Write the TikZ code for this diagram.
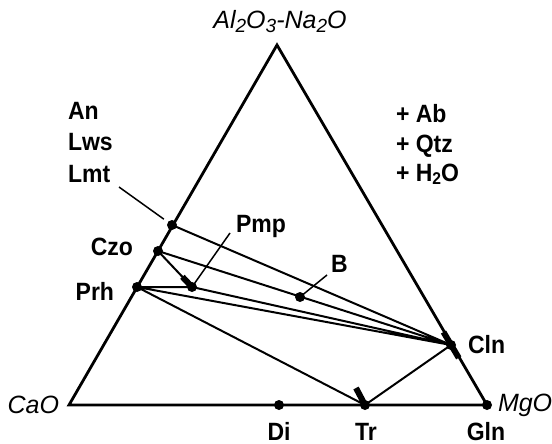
\documentclass[tikz,border=0pt]{standalone}
\usepackage{fontspec}
\setmainfont{Liberation Sans}
\usetikzlibrary{calc}
\newcommand{\lowsub}[2]{\raisebox{-0.3ex}{\fontsize{#1}{#1}\selectfont #2}}
\begin{document}
\begin{tikzpicture}[x=1pt,y=-1pt,line width=2pt,
  lab/.style={font=\fontsize{25}{28}\selectfont\bfseries\addfontfeatures{FakeStretch=0.92},inner sep=0pt},
  oxide/.style={font=\fontsize{25}{27}\selectfont\itshape,inner sep=0pt},
  tick/.style={line width=6pt},
  lead/.style={line width=1.5pt}]
 \useasboundingbox (0,0) rectangle (552,444);
 \coordinate (apex) at (277,45);
 \coordinate (cao) at (69,405);
 \coordinate (mgo) at (487,405);
 \foreach \name/\x/\y in {lmt/172/225,czo/158/251,prh/137/287,pmp/192/287,bb/300/297,cln/451/345,di/279/405,tr/365/405}
   \coordinate (\name) at (\x,\y);
 \draw[line width=2.8pt] (cao)--(apex)--(mgo)--cycle;
 \draw (lmt)--(cln) (czo)--(cln) (czo)--(pmp)--(cln) (prh)--(pmp) (prh)--(cln) (prh)--(tr)--(cln);
 \draw[tick] (pmp)--($(pmp)!14pt!(czo)$);
 \draw[tick] ($(cln)!15pt!(apex)$)--($(cln)!15pt!(mgo)$);
 \coordinate (trtick) at (356,388);
 \draw[tick] (tr)--(trtick);
 \foreach \p in {lmt,czo,prh,pmp,bb,cln,di,tr,mgo}
   \fill (\p) circle[radius=5];
 \node[oxide] (altop) at (280,22) {Al\lowsub{19}{2}O\lowsub{19}{3}-Na\lowsub{19}{2}O};
 \node[oxide,anchor=east] (caolab) at (60,405) {CaO};
 \node[oxide,anchor=west] (mgolab) at (497,405) {MgO};
 \foreach \lab/\txt/\y in {an/An/119,lws/Lws/150,lmtlab/Lmt/182}
   \node[lab,anchor=base west] (\lab) at (67,\y) {\txt};
 \foreach \lab/\txt/\y in {ab/Ab/122,qtz/Qtz/152,water/H\lowsub{17}{2}O/181}
   \node[lab,anchor=base west] (\lab) at (395,\y) {+ \txt};
 \node[lab,anchor=base east] (czolab) at (134,255) {Czo};
 \node[lab,anchor=base east] (prhlab) at (115,300) {Prh};
 \node[lab,anchor=base west] (pmplab) at (235,232) {Pmp};
 \node[lab,anchor=base west] (blab) at (330,272) {B};
 \node[lab,anchor=base west] (clnlab) at (467,353) {Cln};
 \foreach \lab/\txt/\x in {dilab/Di/279,trlab/Tr/366,glnlab/Gln/486}
   \node[lab,anchor=base] (\lab) at (\x,440) {\txt};
 \coordinate (lmtlead) at (119,187);
 \coordinate (pmplead) at (230,233);
 \coordinate (blead) at (327,275);
 \draw[lead] (lmtlead)--($(lmt)!10pt!(lmtlead)$);
 \draw[lead] (pmp)--(pmplead);
 \draw[lead] (bb)--(blead);
\end{tikzpicture}
\end{document}
